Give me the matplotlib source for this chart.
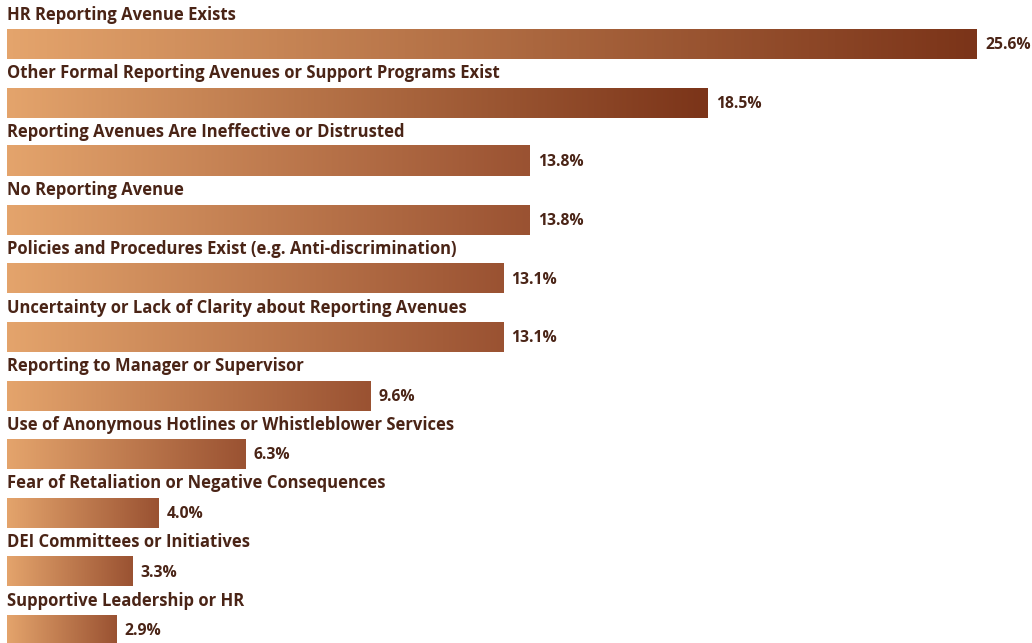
import numpy as np
import matplotlib.pyplot as plt
from matplotlib.colors import LinearSegmentedColormap

categories = [
    "HR Reporting Avenue Exists",
    "Other Formal Reporting Avenues or Support Programs Exist",
    "Reporting Avenues Are Ineffective or Distrusted",
    "No Reporting Avenue",
    "Policies and Procedures Exist (e.g. Anti-discrimination)",
    "Uncertainty or Lack of Clarity about Reporting Avenues",
    "Reporting to Manager or Supervisor",
    "Use of Anonymous Hotlines or Whistleblower Services",
    "Fear of Retaliation or Negative Consequences",
    "DEI Committees or Initiatives",
    "Supportive Leadership or HR",
]
values = [25.6, 18.5, 13.8, 13.8, 13.1, 13.1, 9.6, 6.3, 4.0, 3.3, 2.9]
value_labels = ["25.6%", "18.5%", "13.8%", "13.8%", "13.1%", "13.1%",
                "9.6%", "6.3%", "4.0%", "3.3%", "2.9%"]

W, H, DPI = 1032, 643, 100
fig = plt.figure(figsize=(W / DPI, H / DPI), dpi=DPI)
ax = fig.add_axes([0, 0, 1, 1])

text_color = "#4a2416"
light = "#e4a46c"
dark_top = "#7b3419"
dark_rest = "#9a5232"

# pixel geometry -> data units
px_per_unit = 970 / 25.6
x_left = 7
row_px = 58.6
first_center = 44
bar_px = 30
h = bar_px / row_px

y_top = -first_center / row_px
y_bot = (H - first_center) / row_px

grad = np.linspace(0, 1, 256).reshape(1, -1)
for i, (cat, v, lab) in enumerate(zip(categories, values, value_labels)):
    end = dark_top if i < 2 else dark_rest
    cmap = LinearSegmentedColormap.from_list(f"g{i}", [light, end])
    ax.imshow(grad, cmap=cmap, aspect="auto", interpolation="bilinear",
              extent=[0, v, i + h / 2, i - h / 2], zorder=2)
    ax.text(0, i - 0.5, cat, ha="left", va="center", fontsize=12,
            fontweight="bold", color=text_color, family="Open Sans")
    ax.text(v + 8 / px_per_unit, i + 0.02, lab, ha="left", va="center",
            fontsize=11.3, fontweight="bold", color=text_color,
            family="Open Sans")

ax.set_xlim(-x_left / px_per_unit, (W - x_left) / px_per_unit)
ax.set_ylim(y_bot, y_top)
ax.axis("off")
fig.savefig("out.png", dpi=DPI, facecolor="white")
